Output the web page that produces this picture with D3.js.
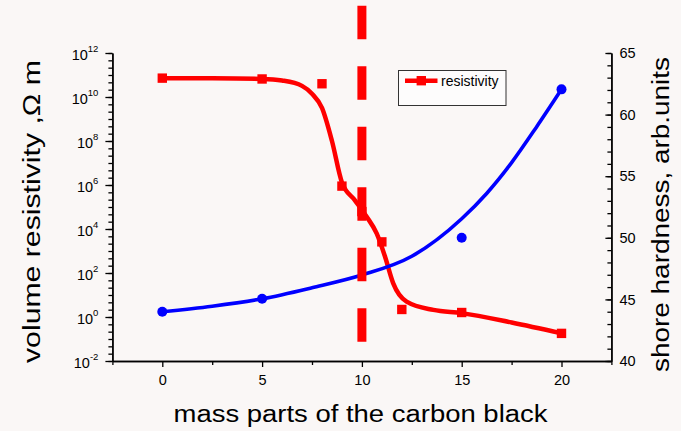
<!DOCTYPE html>
<html>
<head>
<meta charset="utf-8">
<script src="https://cdn.jsdelivr.net/npm/d3@7"></script>
<style>
  html, body { margin: 0; padding: 0; background: #faf7f6; }
  svg { display: block; font-family: "Liberation Sans", Arial, sans-serif; }
</style>
</head>
<body>
<svg id="chart" width="681" height="431"></svg>
<script>
// Measured samples: mass parts of carbon black
const carbonParts = [0, 5, 8, 9, 10, 11, 12, 15, 20];
// Volume resistivity, Ω·m
const resistivity = [7.2e10, 6.6e10, 4.0e10, 8.9e5, 6.2e4, 2.6e3, 2.2, 1.6, 0.18];

// Smoothed resistivity trend
const resistivityTrendX = [0, 2.5, 5, 6, 7, 7.5, 8, 8.5, 9, 9.65, 10.24, 10.74, 11.16, 11.57, 12.24, 13.58, 15, 17.5, 20];
const resistivityTrendY = [7.2e10, 7.1e10, 6.6e10, 5.6e10, 3.2e10, 1.4e10, 3.2e9, 1e8, 1.3e6, 2.0e5, 3.6e4, 6.3e3, 5.5e2, 34, 5.0, 2.1, 1.5, 0.56, 0.18];

// Shore hardness samples
const hardnessParts = [0, 5, 15, 20];
const hardness = [44.0, 45.05, 50.0, 62.05];

// Smoothed hardness trend
const hardnessTrendX = [0, 2.5, 5, 7.5, 10, 12.5, 15, 16.25, 17.5, 18.75, 20];
const hardnessTrendY = [44.0, 44.45, 45.05, 45.95, 46.98, 48.5, 51.55, 53.6, 56.1, 59.0, 62.05];

// Percolation threshold marker
const thresholdParts = 10;

// Axis ticks
const xMajorTicks = [0, 5, 10, 15, 20];
const xMinorTicks = [-2.5, 2.5, 7.5, 12.5, 17.5, 22.5];
const leftExponents = [-2, 0, 2, 4, 6, 8, 10, 12];
const rightMajorTicks = [40, 45, 50, 55, 60, 65];

const svg = d3.select("#chart");
const plotLeft = 112.4, plotRight = 611.4, plotTop = 53, plotBottom = 361;

const x = d3.scaleLinear().domain([-2.5, 22.5]).range([plotLeft, plotRight]);
const yL = d3.scaleLog().domain([1e-2, 1e12]).range([plotBottom, plotTop]);
const yR = d3.scaleLinear().domain([40, 65]).range([plotBottom, plotTop]);

const axisStroke = "#000";
const fontFamily = "Liberation Sans, Arial, sans-serif";

function styleAxis(g) {
  g.select(".domain").attr("stroke", axisStroke).attr("stroke-width", 1.4);
  g.selectAll(".tick line").attr("stroke", axisStroke).attr("stroke-width", 1.3);
}

// Bottom axis
svg.append("g").attr("transform", `translate(0,${plotBottom})`)
  .call(d3.axisBottom(x).tickValues(xMinorTicks).tickSize(4).tickFormat("").tickSizeOuter(0))
  .call(styleAxis);
const xAxis = svg.append("g").attr("transform", `translate(0,${plotBottom})`)
  .call(d3.axisBottom(x).tickValues(xMajorTicks).tickSize(6).tickPadding(8).tickSizeOuter(0))
  .call(styleAxis);
xAxis.selectAll("text").attr("font-size", 14.5).attr("fill", "#000").attr("font-family", fontFamily);

// Left (log) axis
const leftMinor = d3.range(-2, 12.001, 1 / 3).map(e => Math.pow(10, e));
svg.append("g").attr("transform", `translate(${plotLeft},0)`)
  .call(d3.axisLeft(yL).tickValues(leftMinor).tickSize(4).tickFormat("").tickSizeOuter(0))
  .call(styleAxis);
const yLAxis = svg.append("g").attr("transform", `translate(${plotLeft},0)`)
  .call(d3.axisLeft(yL).tickValues(leftExponents.map(e => Math.pow(10, e))).tickSize(7).tickPadding(7).tickSizeOuter(0))
  .call(styleAxis);
yLAxis.selectAll(".tick text").each(function (d) {
  const t = d3.select(this);
  const e = Math.round(Math.log10(d));
  t.text(null).attr("font-size", 14.5).attr("fill", "#000")
    .attr("font-family", fontFamily).attr("dy", "0.45em");
  t.append("tspan").text("10");
  t.append("tspan").attr("font-size", 9.5).attr("dy", "-0.85em").text(String(e));
});

// Right axis, ticks pointing inward
svg.append("g").attr("transform", `translate(${plotRight},0)`)
  .call(d3.axisLeft(yR).tickValues(d3.range(40, 65.001, 1)).tickSize(4).tickFormat("").tickSizeOuter(0))
  .call(styleAxis);
const yRAxis = svg.append("g").attr("transform", `translate(${plotRight},0)`)
  .call(d3.axisLeft(yR).tickValues(rightMajorTicks).tickSize(6).tickFormat(d3.format("d")).tickSizeOuter(0))
  .call(styleAxis);
yRAxis.selectAll(".tick text").attr("x", 8).attr("text-anchor", "start")
  .attr("font-size", 14.5).attr("fill", "#000").attr("font-family", fontFamily);

// Axis titles (wide face: stretched to their set lengths)
svg.append("text").attr("x", 360.5).attr("y", 421.5)
  .attr("text-anchor", "middle").attr("font-size", 23).attr("fill", "#000")
  .attr("textLength", 374).attr("lengthAdjust", "spacingAndGlyphs")
  .text("mass parts of the carbon black");
svg.append("text").attr("transform", `translate(39.5,211.5) rotate(-90)`)
  .attr("text-anchor", "middle").attr("font-size", 23).attr("fill", "#000")
  .attr("textLength", 303).attr("lengthAdjust", "spacingAndGlyphs")
  .text("volume resistivity ,\u03A9 m");
svg.append("text").attr("transform", `translate(668.5,214.5) rotate(-90)`)
  .attr("text-anchor", "middle").attr("font-size", 23).attr("fill", "#000")
  .attr("textLength", 315).attr("lengthAdjust", "spacingAndGlyphs")
  .text("shore hardness, arb.units");

// Resistivity trend curve
const resLine = d3.line().x(d => x(d[0])).y(d => yL(d[1])).curve(d3.curveMonotoneX);
svg.append("path")
  .datum(d3.zip(resistivityTrendX, resistivityTrendY))
  .attr("d", resLine).attr("fill", "none").attr("stroke", "#ff0000").attr("stroke-width", 4.5);

// Hardness trend curve
const hardLine = d3.line().x(d => x(d[0])).y(d => yR(d[1])).curve(d3.curveMonotoneX);
svg.append("path")
  .datum(d3.zip(hardnessTrendX, hardnessTrendY))
  .attr("d", hardLine).attr("fill", "none").attr("stroke", "#0000ff").attr("stroke-width", 3.6);

// Resistivity markers
const sq = 9.4;
svg.append("g").selectAll("rect")
  .data(d3.zip(carbonParts, resistivity)).join("rect")
  .attr("x", d => x(d[0]) - sq / 2).attr("y", d => yL(d[1]) - sq / 2)
  .attr("width", sq).attr("height", sq).attr("fill", "#ff0000");

// Hardness markers
svg.append("g").selectAll("circle")
  .data(d3.zip(hardnessParts, hardness)).join("circle")
  .attr("cx", d => x(d[0])).attr("cy", d => yR(d[1])).attr("r", 5).attr("fill", "#0000ff");

// Threshold dashed line
svg.append("line")
  .attr("x1", x(thresholdParts)).attr("x2", x(thresholdParts))
  .attr("y1", 5.7).attr("y2", plotBottom)
  .attr("stroke", "#ff0000").attr("stroke-width", 9)
  .attr("stroke-dasharray", "33.5 27");

// Legend
const lg = svg.append("g");
lg.append("rect").attr("x", 398.5).attr("y", 70.5).attr("width", 107.5).attr("height", 35)
  .attr("fill", "#fdfcfc").attr("stroke", "#333").attr("stroke-width", 1);
lg.append("line").attr("x1", 405).attr("x2", 437.5).attr("y1", 80.7).attr("y2", 80.7)
  .attr("stroke", "#ff0000").attr("stroke-width", 4.5);
lg.append("rect").attr("x", 421.3 - sq / 2).attr("y", 80.7 - sq / 2).attr("width", sq).attr("height", sq)
  .attr("fill", "#ff0000");
lg.append("text").attr("x", 441).attr("y", 86).attr("font-size", 14).attr("fill", "#000")
  .text("resistivity");
</script>
</body>
</html>
